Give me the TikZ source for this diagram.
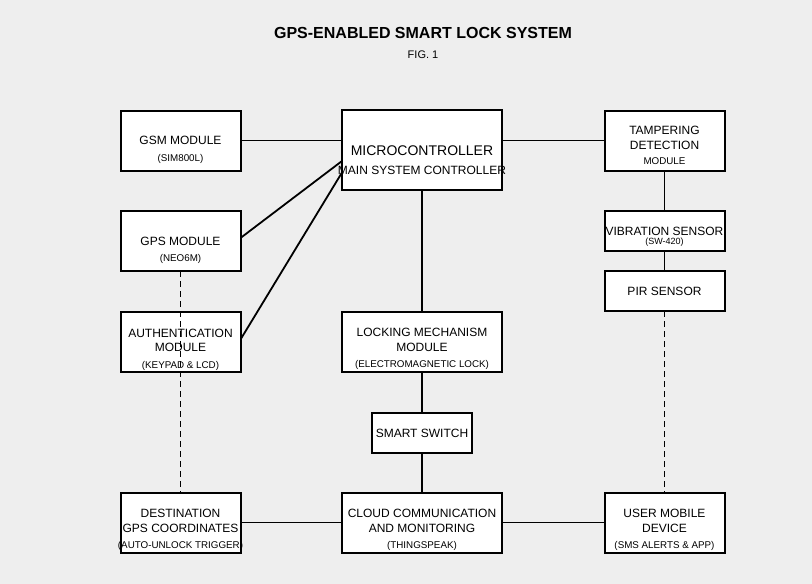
\documentclass[tikz,border=0pt]{standalone}
\usepackage{fontspec}
\setmainfont{Liberation Sans}
\definecolor{bggray}{HTML}{EEEEEE}

\begin{document}
\begin{tikzpicture}[x=1pt, y=-1pt,
    box/.style={inner sep=0pt, outer sep=0pt},
    boxline/.style={draw=black, fill=white, line width=2pt},
    main/.style={inner sep=0pt, text height=8.6pt, text depth=0pt, font=\fontsize{12}{14}\selectfont},
    sub/.style={inner sep=0pt, text height=7.2pt, text depth=0pt, font=\fontsize{9.8}{12}\selectfont},
    link/.style={draw=black, line width=1.8pt},
    dashlink/.style={draw=black, line width=1.8pt, dash pattern=on 6pt off 4pt}]
  \useasboundingbox[fill=bggray] (0,0) rectangle (812,584);

  \node[inner sep=0pt, font=\bfseries\fontsize{16}{18}\selectfont] (TT) at (423, 33) {GPS-ENABLED SMART LOCK SYSTEM};
  \node[inner sep=0pt, text height=7.9pt, text depth=0pt, font=\fontsize{11}{13}\selectfont] (TF) at (423, 55) {FIG. 1};

  % left column
  \node[box, minimum width=120pt, minimum height=60pt] (GSM) at (180.5, 140.5) {};
  \node[box, minimum width=120pt, minimum height=60pt] (GPS) at (180.5, 241) {};
  \node[box, minimum width=120pt, minimum height=60pt] (AUTH) at (180.5, 341.5) {};
  \node[box, minimum width=120pt, minimum height=60pt] (DEST) at (180.5, 522.5) {};

  % middle column
  \node[box, minimum width=160pt, minimum height=80pt] (MCU) at (422, 150) {};
  \node[box, minimum width=160pt, minimum height=60pt] (LOCK) at (422, 341.5) {};
  \node[box, minimum width=100pt, minimum height=40pt] (SW) at (422, 432.5) {};
  \node[box, minimum width=160pt, minimum height=60pt] (CLOUD) at (422, 522.5) {};

  % right column
  \node[box, minimum width=120pt, minimum height=60pt] (TAMP) at (664.5, 140.5) {};
  \node[box, minimum width=120pt, minimum height=40pt] (VIB) at (664.5, 231) {};
  \node[box, minimum width=120pt, minimum height=40pt] (PIR) at (664.5, 291) {};
  \node[box, minimum width=120pt, minimum height=60pt] (USER) at (664.5, 522.5) {};

  \coordinate (MI1) at (342, 161);
  \coordinate (MI2) at (342, 172.5);

  \draw[link] (GSM) -- (MCU.west |- GSM);
  \draw[link] ([yshift=3pt]GPS.east) -- (MI1);
  \draw[link] ([yshift=2pt]AUTH.east) -- (MI2);
  \draw[link] (MCU.east |- TAMP) -- (TAMP);
  \draw[link] (MCU) -- (LOCK);
  \draw[link] (LOCK) -- (SW);
  \draw[link] (SW) -- (CLOUD);
  \draw[link] (TAMP) -- (VIB);
  \draw[link] (VIB) -- (PIR);
  \draw[link] (DEST) -- (CLOUD);
  \draw[link] (CLOUD) -- (USER);

  % the boxes over the solid links
  \foreach \b in {GSM, GPS, AUTH, DEST, MCU, LOCK, SW, CLOUD, TAMP, VIB, PIR, USER}
    \draw[boxline] (\b.north west) rectangle (\b.south east);

  \draw[dashlink] (GPS.south) -- (DEST.north);
  \draw[dashlink] (PIR.south) -- (USER.north);

  \node[main] (GSM1) at (180.5, 140) {GSM MODULE};
  \node[sub] (GSM2) at (180.5, 157.5) {(SIM800L)};

  \node[main] (GPS1) at (180.5, 241) {GPS MODULE};
  \node[sub] (GPS2) at (180.5, 257.5) {(NEO6M)};

  \node[main] (AUTH1) at (180.5, 333) {AUTHENTICATION};
  \node[main] (AUTH2) at (180.5, 347.5) {MODULE};
  \node[sub] (AUTH3) at (180.5, 364.5) {(KEYPAD \& LCD)};

  \node[main] (DEST1) at (180.5, 513.5) {DESTINATION};
  \node[main] (DEST2) at (180.5, 528.5) {GPS COORDINATES};
  \node[sub] (DEST3) at (180.5, 544.5) {(AUTO-UNLOCK TRIGGER)};

  \node[main, text height=10pt, font=\fontsize{14}{16}\selectfont] (MCU1) at (422, 150) {MICROCONTROLLER};
  \node[main] (MCU2) at (422, 170.5) {MAIN SYSTEM CONTROLLER};

  \node[main] (LOCK1) at (422, 332.5) {LOCKING MECHANISM};
  \node[main] (LOCK2) at (422, 347.5) {MODULE};
  \node[sub] (LOCK3) at (422, 363.5) {(ELECTROMAGNETIC LOCK)};

  \node[main] (SW1) at (422, 433) {SMART SWITCH};

  \node[main] (CLOUD1) at (422, 513.5) {CLOUD COMMUNICATION};
  \node[main] (CLOUD2) at (422, 528.5) {AND MONITORING};
  \node[sub] (CLOUD3) at (422, 544.5) {(THINGSPEAK)};

  \node[main] (TAMP1) at (664.5, 130.5) {TAMPERING};
  \node[main] (TAMP2) at (664.5, 145) {DETECTION};
  \node[sub] (TAMP3) at (664.5, 161) {MODULE};

  \node[main] (VIB1) at (664.5, 231) {VIBRATION SENSOR};
  \node[sub, font=\fontsize{9}{11}\selectfont] (VIB2) at (664.5, 240.5) {(SW-420)};

  \node[main] (PIR1) at (664.5, 291) {PIR SENSOR};

  \node[main] (USER1) at (664.5, 513.5) {USER MOBILE};
  \node[main] (USER2) at (664.5, 528.5) {DEVICE};
  \node[sub] (USER3) at (664.5, 544.5) {(SMS ALERTS \& APP)};
\end{tikzpicture}
\end{document}
